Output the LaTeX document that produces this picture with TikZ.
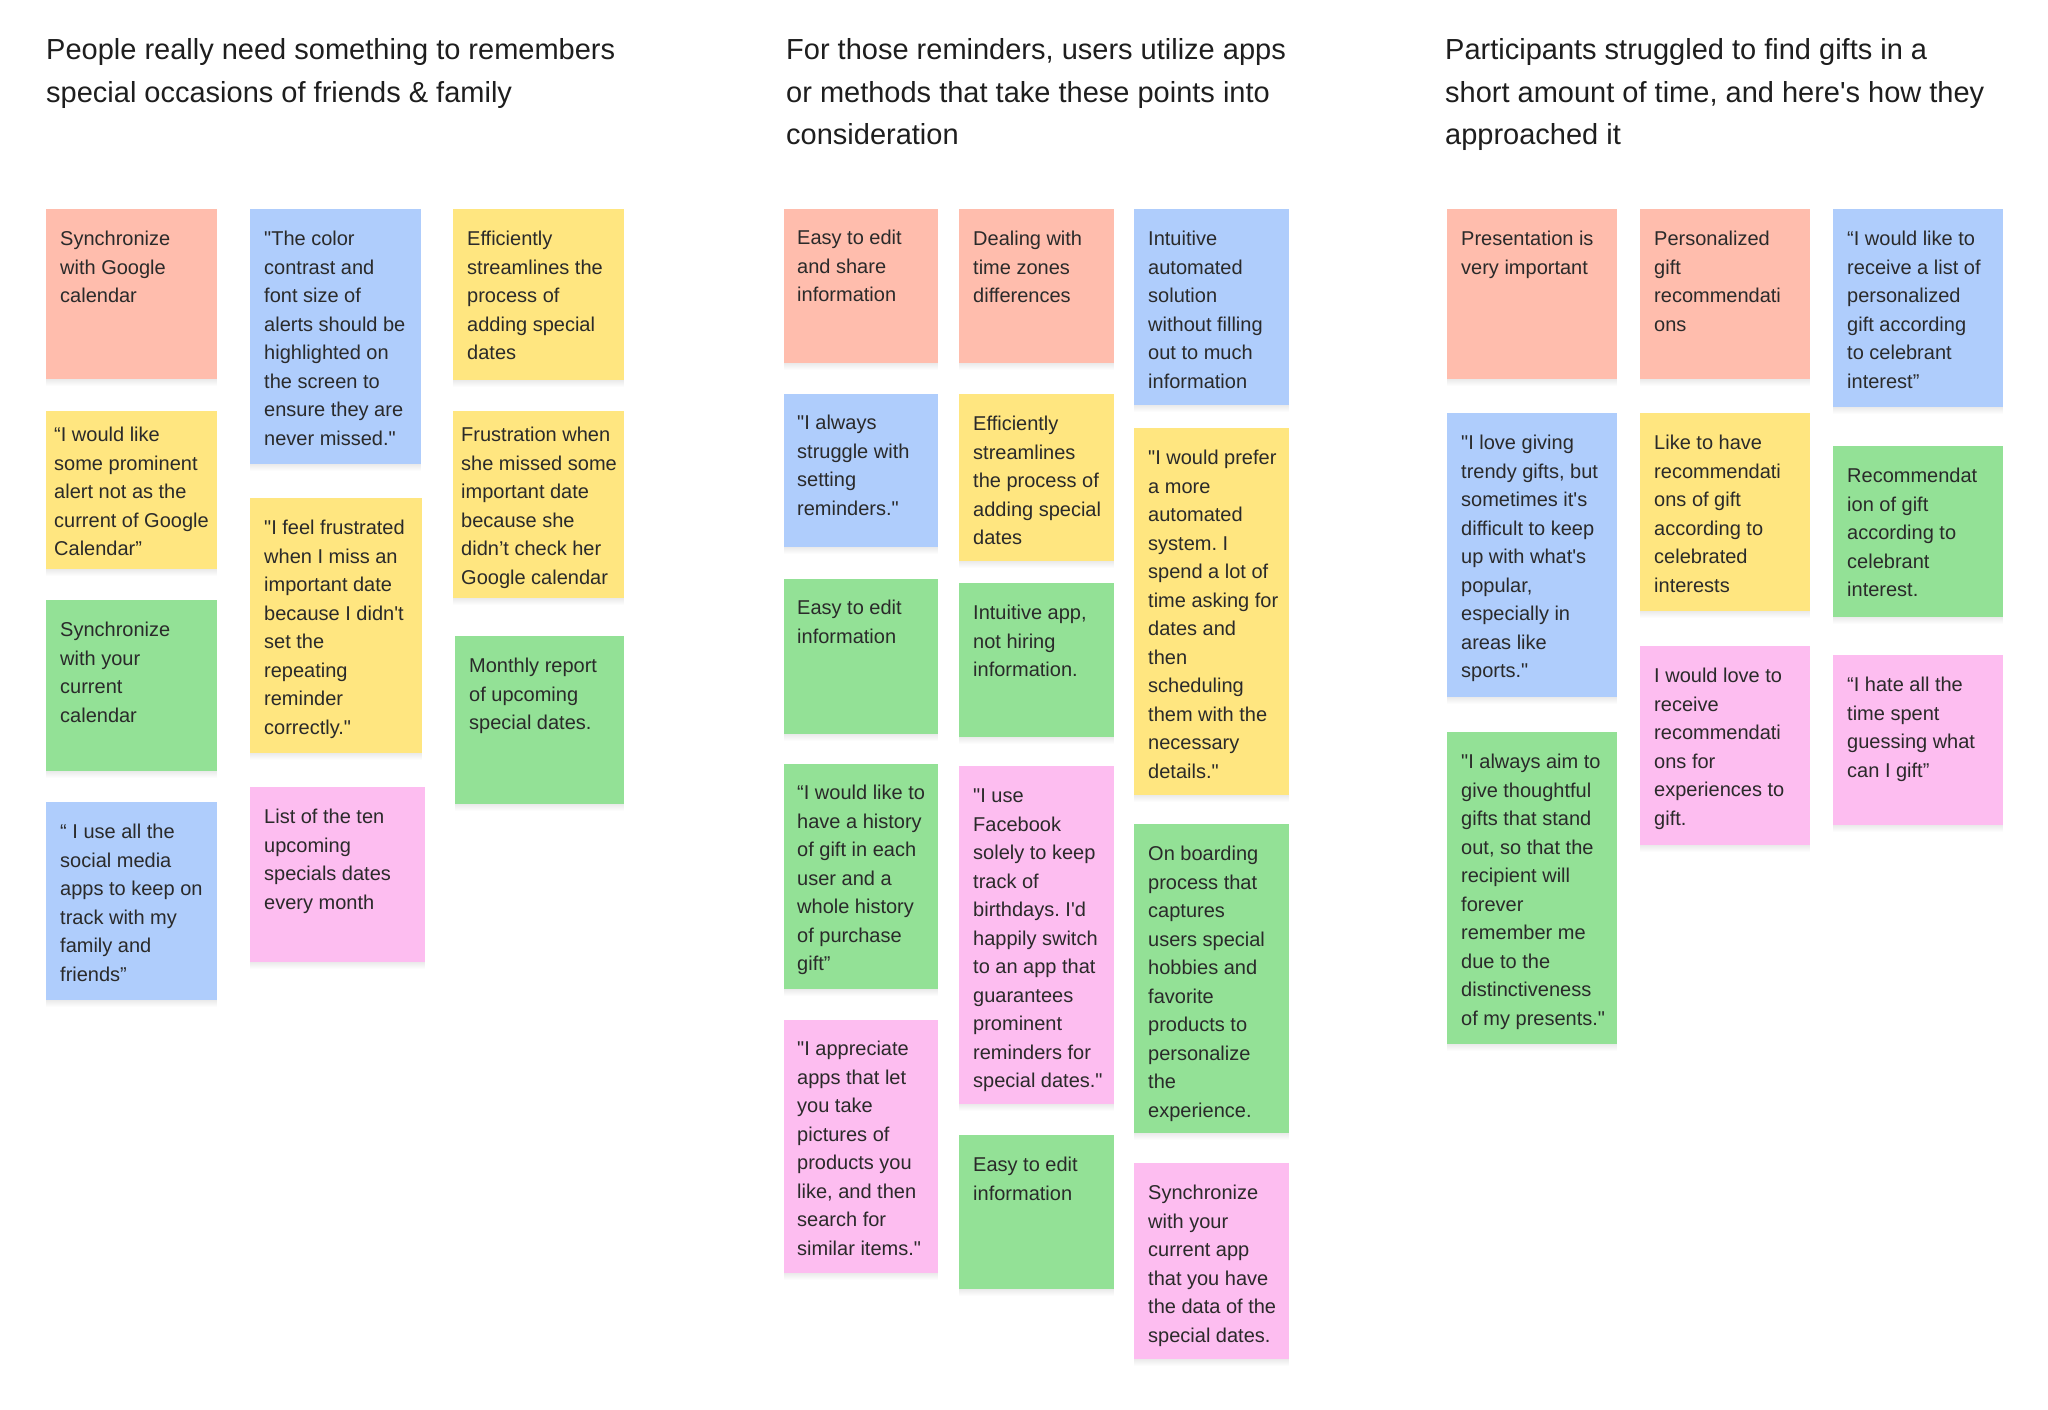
\documentclass[tikz,border=0pt]{standalone}
\usepackage{fontspec}
\newfontfamily\notefont{Liberation Sans}
\usetikzlibrary{positioning}
\definecolor{salmon}{HTML}{FFBDAD}
\definecolor{sky}{HTML}{AFCDFC}
\definecolor{butter}{HTML}{FFE680}
\definecolor{mint}{HTML}{93E196}
\definecolor{blush}{HTML}{FDBDF0}
\definecolor{ink}{HTML}{1E1E1E}
\definecolor{notegrey}{HTML}{2A2A2A}
\frenchspacing

\begin{document}
\begin{tikzpicture}[x=1pt,y=-1pt,
  heading/.style={anchor=north west,inner sep=0,align=left,text=ink,font=\notefont\fontsize{29}{42.6}\selectfont},
  notetxt/.style={anchor=north west,inner sep=0,align=left,text=notegrey,font=\notefont\fontsize{20}{28.5}\selectfont}]
\useasboundingbox (0,0) rectangle (2048,1409);
\fill[white] (0,0) rectangle (2048,1409);

% section headings
\node[heading] (head1) at (46,29.5) {\strut People really need something to remembers\\special occasions of friends \& family};
\node[heading] (head2) at (786,29.5) {\strut For those reminders, users utilize apps\\or methods that take these points into\\consideration};
\node[heading] (head3) at (1445,29.5) {\strut Participants struggled to find gifts in a\\short amount of time, and here's how they\\approached it};

% sticky notes: name/colour/left/top/width/height/padding/text
\foreach \nm/\col/\x/\y/\w/\h/\p/\txt in {
  a1/salmon/46/209/171/170/14/{Synchronize\\with Google\\calendar},
  a2/butter/46/411/171/158/8/{“I would like\\some prominent\\alert not as the\\current of Google\\Calendar”},
  a3/mint/46/600/171/171/14/{Synchronize\\with your\\current\\calendar},
  a4/sky/46/802/171/198/14/{“ I use all the\\social media\\apps to keep on\\track with my\\family and\\friends”},
  b1/sky/250/209/171/255/14/{"The color\\contrast and\\font size of\\alerts should be\\highlighted on\\the screen to\\ensure they are\\never missed."},
  b2/butter/250/498/172/255/14/{"I feel frustrated\\when I miss an\\important date\\because I didn't\\set the\\repeating\\reminder\\correctly."},
  b3/blush/250/787/175/175/14/{List of the ten\\upcoming\\specials dates\\every month},
  c1/butter/453/209/171/171/14/{Efficiently\\streamlines the\\process of\\adding special\\dates},
  c2/butter/453/411/171/187/8/{Frustration when\\she missed some\\important date\\because she\\didn’t check her\\Google calendar},
  c3/mint/455/636/169/168/14/{Monthly report\\of upcoming\\special dates.},
  d1/salmon/784/209/154/154/13/{Easy to edit\\and share\\information},
  d2/sky/784/394/154/153/13/{"I always\\struggle with\\setting\\reminders."},
  d3/mint/784/579/154/155/13/{Easy to edit\\information},
  d4/mint/784/764/154/225/13/{“I would like to\\have a history\\of gift in each\\user and a\\whole history\\of purchase\\gift”},
  d5/blush/784/1020/154/253/13/{"I appreciate\\apps that let\\you take\\pictures of\\products you\\like, and then\\search for\\similar items."},
  e1/salmon/959/209/155/154/14/{Dealing with\\time zones\\differences},
  e2/butter/959/394/155/167/14/{Efficiently\\streamlines\\the process of\\adding special\\dates},
  e3/mint/959/583/155/154/14/{Intuitive app,\\not hiring\\information.},
  e4/blush/959/766/155/338/14/{"I use\\Facebook\\solely to keep\\track of\\birthdays. I'd\\happily switch\\to an app that\\guarantees\\prominent\\reminders for\\special dates."},
  e5/mint/959/1135/155/154/14/{Easy to edit\\information},
  f1/sky/1134/209/155/196/14/{Intuitive\\automated\\solution\\without filling\\out to much\\information},
  f2/butter/1134/428/155/367/14/{"I would prefer\\a more\\automated\\system. I\\spend a lot of\\time asking for\\dates and\\then\\scheduling\\them with the\\necessary\\details."},
  f3/mint/1134/824/155/309/14/{On boarding\\process that\\captures\\users special\\hobbies and\\favorite\\products to\\personalize\\the\\experience.},
  f4/blush/1134/1163/155/196/14/{Synchronize\\with your\\current app\\that you have\\the data of the\\special dates.},
  g1/salmon/1447/209/170/170/14/{Presentation is\\very important},
  g2/sky/1447/413/170/284/14/{"I love giving\\trendy gifts, but\\sometimes it's\\difficult to keep\\up with what's\\popular,\\especially in\\areas like\\sports."},
  g3/mint/1447/732/170/312/14/{"I always aim to\\give thoughtful\\gifts that stand\\out, so that the\\recipient will\\forever\\remember me\\due to the\\distinctiveness\\of my presents."},
  h1/salmon/1640/209/170/170/14/{Personalized\\gift\\recommendati\\ons},
  h2/butter/1640/413/170/198/14/{Like to have\\recommendati\\ons of gift\\according to\\celebrated\\interests},
  h3/blush/1640/646/170/199/14/{I would love to\\receive\\recommendati\\ons for\\experiences to\\gift.},
  i1/sky/1833/209/170/198/14/{“I would like to\\receive a list of\\personalized\\gift according\\to celebrant\\interest”},
  i2/mint/1833/446/170/171/14/{Recommendat\\ion of gift\\according to\\celebrant\\interest.},
  i3/blush/1833/655/170/170/14/{“I hate all the\\time spent\\guessing what\\can I gift”}}
  {\foreach \s in {1,...,7}
     {\fill[black,opacity=0.012] (\x,\y+\s) rectangle ++(\w,\h);}
   \fill[\col] (\x,\y) rectangle ++(\w,\h);
   \node[notetxt] (\nm) at (\x+\p,\y+\p+2.5) {\strut\txt};}
\end{tikzpicture}
\end{document}
